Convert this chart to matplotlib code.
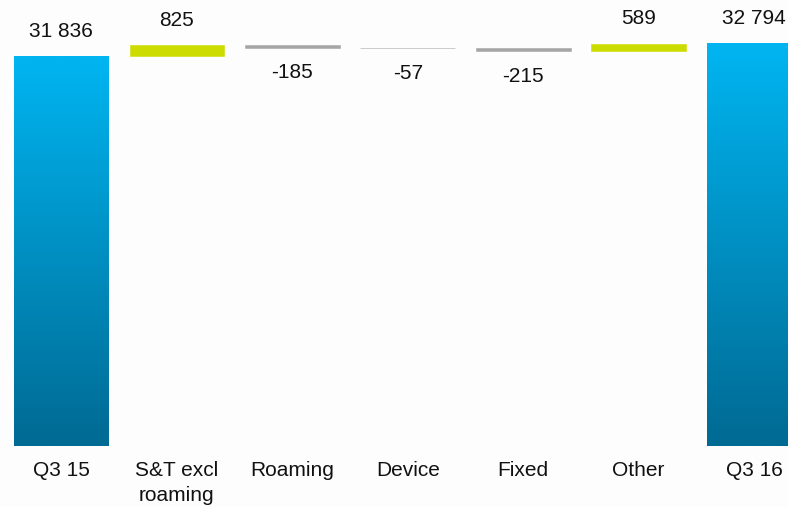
import matplotlib.pyplot as plt
import numpy as np
from matplotlib.colors import LinearSegmentedColormap

categories = ['Q3 15', 'S&T excl\nroaming', 'Roaming', 'Device', 'Fixed', 'Other', 'Q3 16']
start_total = 31836
changes = [825, -185, -57, -215, 589]
end_total = 32794

plt.rcParams['font.family'] = ['Liberation Sans', 'DejaVu Sans']

fig = plt.figure(figsize=(7.88, 5.07), dpi=100, facecolor='#fdfdfd')
ax = fig.add_axes([0, 0.1209, 1, 0.879])
ax.set_facecolor('#fdfdfd')

x = np.arange(len(categories))
width = 0.82
ymin, ymax = 1985, 36126
ax.set_xlim(-0.532, 6.294)
ax.set_ylim(ymin, ymax)

blue = LinearSegmentedColormap.from_list('bl', ['#006a93', '#00b5f1'])
grad = np.linspace(0, 1, 256).reshape(-1, 1)
fs = 15

def label(xpos, y, val, above):
    txt = f'{val:,}'.replace(',', ' ')
    ax.annotate(txt, (xpos, y), xytext=(0, 25 if above else -25),
                textcoords='offset pixels', ha='center', va='center',
                fontsize=fs, color='#111111')

# totals: gradient filled bars
for i, total in [(0, start_total), (6, end_total)]:
    ax.imshow(grad, cmap=blue, origin='lower', aspect='auto',
              extent=[x[i] - width / 2, x[i] + width / 2, ymin, total],
              zorder=2)
    label(x[i], total, total, True)

# floating steps
level = start_total
for i, d in enumerate(changes, start=1):
    color = '#cddc00' if d > 0 else '#a6a6a6'
    ax.bar(x[i], d, width, bottom=level, color=color,
           edgecolor=color, linewidth=0.4, zorder=2)
    label(x[i], level + d, d, d > 0)
    level += d

ax.set_xticks(x)
ax.set_xticklabels(categories, fontsize=fs, color='#111111', linespacing=1.4)
ax.tick_params(axis='x', length=0, pad=11)
ax.set_yticks([])
for s in ax.spines.values():
    s.set_visible(False)

fig.savefig('out.png', dpi=100, facecolor=fig.get_facecolor())
